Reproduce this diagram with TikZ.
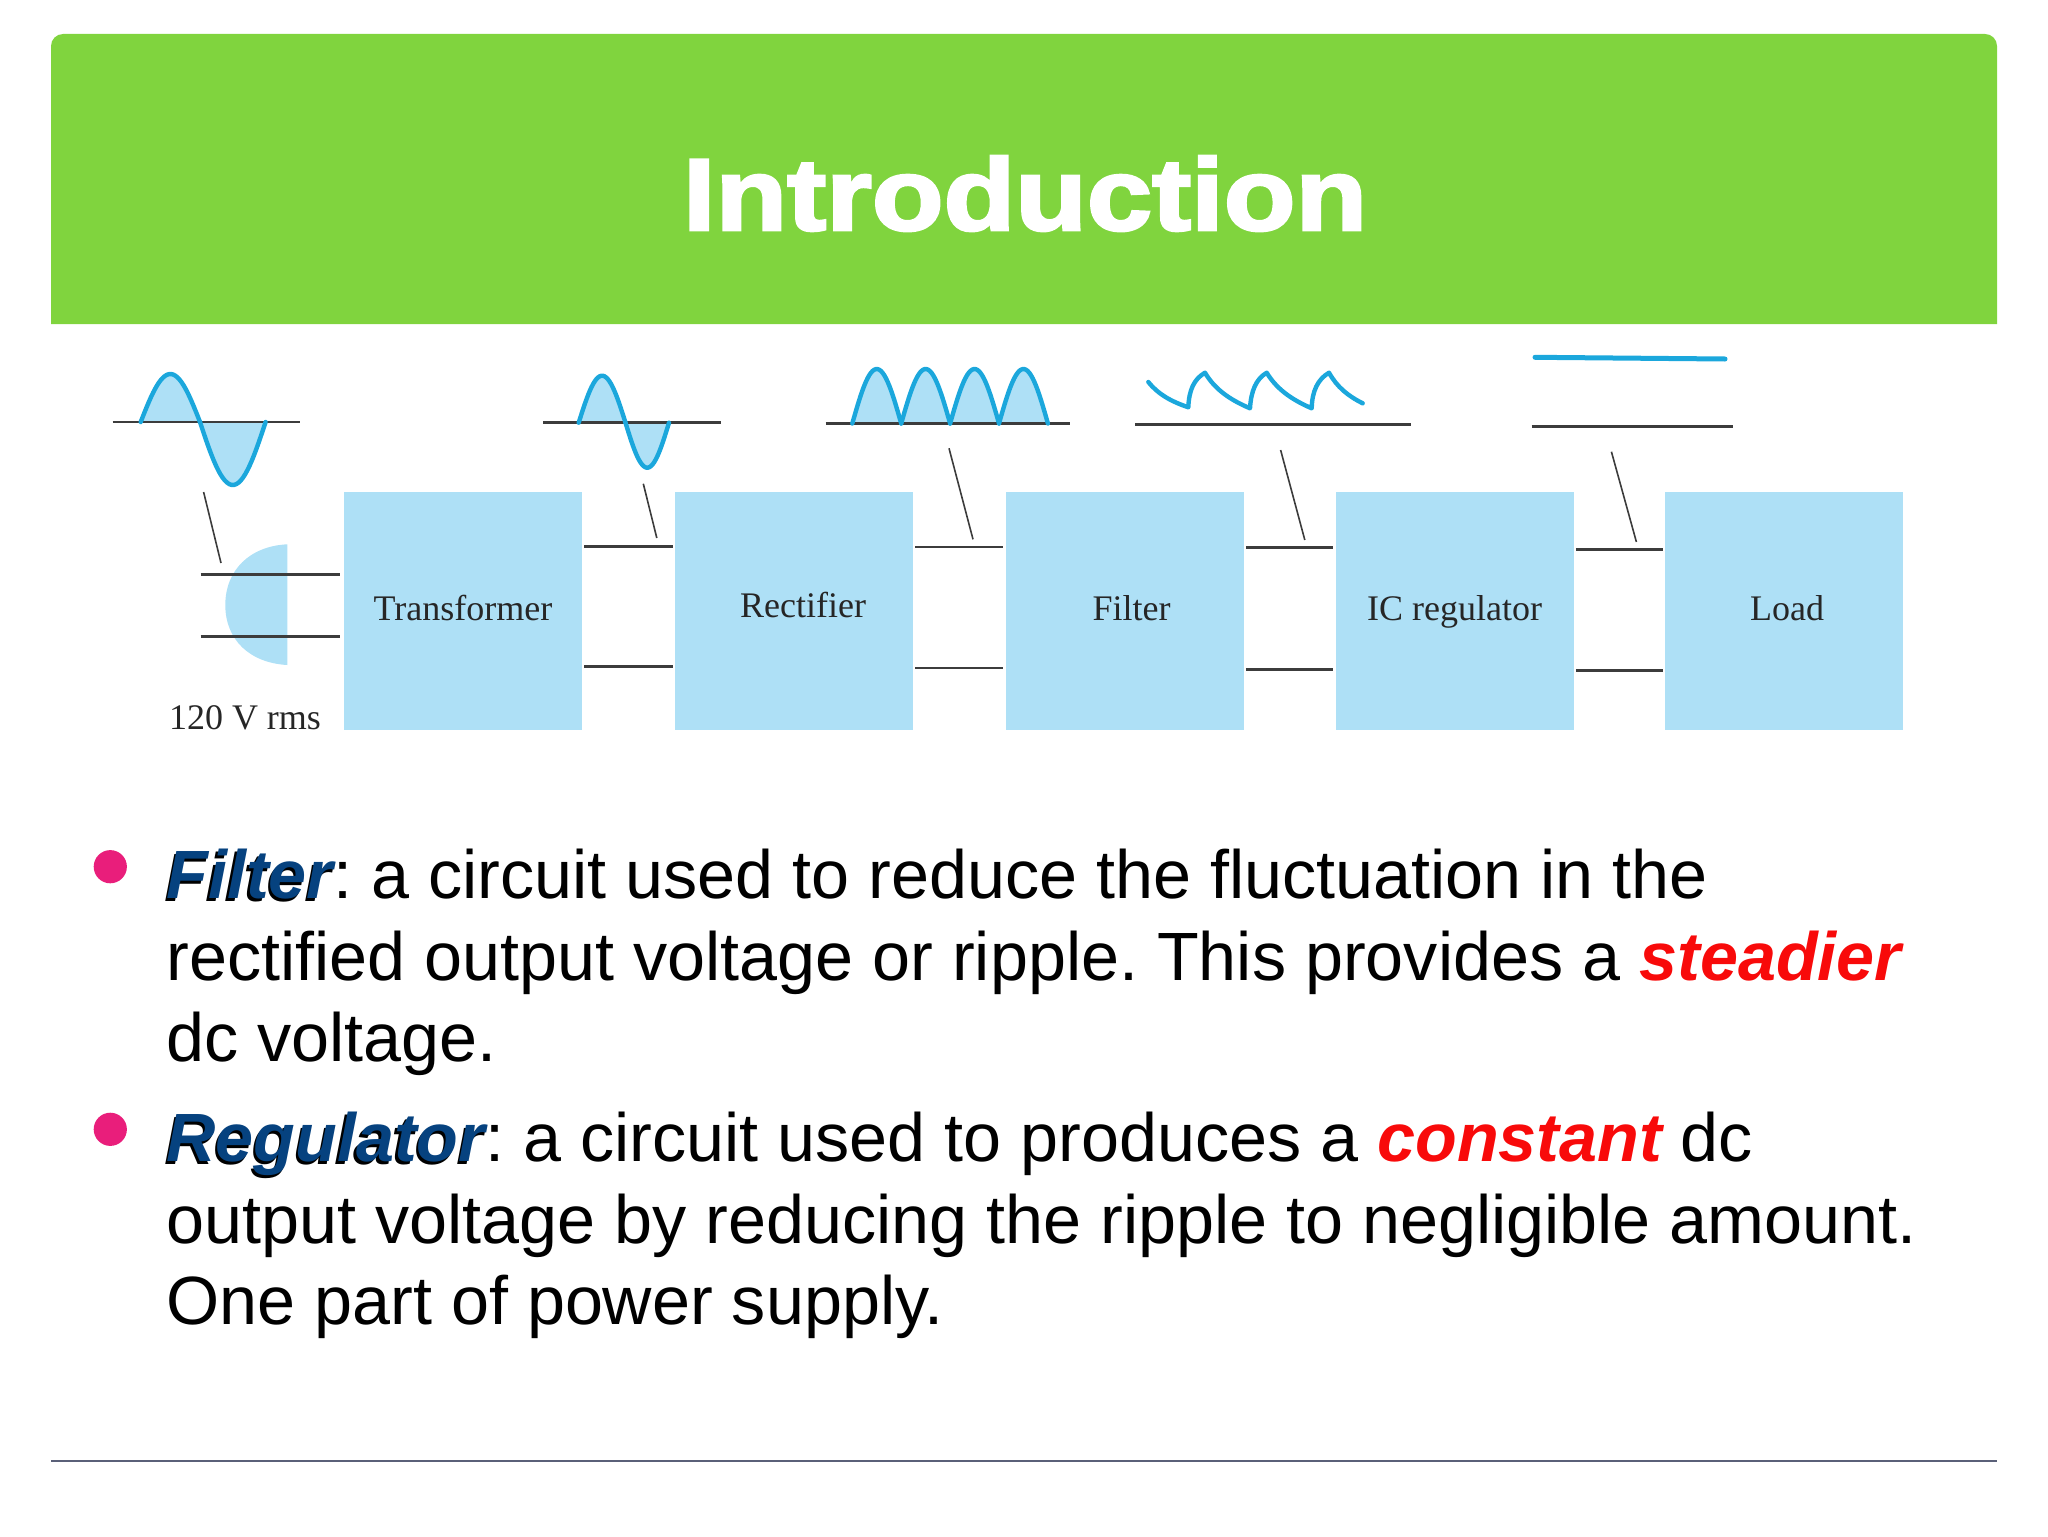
\documentclass[tikz,border=0pt]{standalone}
\usepackage{fontspec}
\setmainfont{Liberation Sans}
\newfontfamily\titlefont[FakeStretch=1.15,FakeBold=2.8]{Liberation Sans Bold}
\newfontfamily\boxfont{Liberation Serif}

\definecolor{headgreen}{HTML}{80D43E}
\definecolor{boxblue}{HTML}{AEE0F6}
\definecolor{waveblue}{HTML}{1BA7DC}
\definecolor{wordblue}{HTML}{06427F}
\definecolor{wordred}{HTML}{F80A0A}
\definecolor{dotpink}{HTML}{E91E7B}
\definecolor{rulegrey}{HTML}{5A6078}
\definecolor{wiregrey}{HTML}{3C3C3C}

\newcommand{\shadowword}[1]{\rlap{\kern-1.1pt\raisebox{-1.1pt}{\textcolor{black}{\bfseries\itshape #1}}}\textcolor{wordblue}{\bfseries\itshape #1}}
\newcommand{\redword}[1]{\textcolor{wordred}{\bfseries\itshape #1}}

\begin{document}
\frenchspacing
\begin{tikzpicture}[x=0.5pt, y=-0.5pt]
\tikzstyle{block} = [rectangle, fill=boxblue, minimum width=119pt, minimum height=119pt, inner sep=0pt, text height=12.2pt, text depth=2.5pt, font=\boxfont\fontsize{18}{20}\selectfont, text=black!85]
\tikzstyle{wire}  = [wiregrey, line width=1.3pt, shorten <=1pt, shorten >=1pt]
\tikzstyle{tick}  = [wiregrey, line width=0.8pt]
\tikzstyle{axis}  = [wiregrey, line width=1.3pt]
\tikzstyle{wave}  = [waveblue, line width=2.2pt, line join=round, line cap=round]
\tikzstyle{shade} = [fill=boxblue, draw=none]
\tikzstyle{para}  = [anchor=north west, inner sep=0pt, align=left, font=\fontsize{34.15}{40.6}\selectfont]
\tikzstyle{dot}   = [circle, fill=dotpink, minimum size=16.6pt, inner sep=0pt]

\useasboundingbox (0,0) rectangle (2048,1536);

% header
\fill [headgreen] (51,324) [rounded corners=6pt] -- (51,34) -- (1997,34) [sharp corners] -- (1997,324) -- cycle;
\node (title) [anchor=base, text=white, font=\titlefont\fontsize{51}{60}\selectfont] at (1025,230) {Introduction};

% blocks
\node (transformer) [block] at (463,611)    {Transformer};
\node (rectifier)   [block] at (794,611)    {\hspace{9pt}\raisebox{1.4pt}{Rectifier}};
\node (filter)      [block] at (1124.5,611) {\hspace{7pt}Filter};
\node (icreg)       [block] at (1454.5,611) {IC regulator};
\node (load)        [block] at (1784,611)   {\hspace{3pt}Load};
\node (mains)       [anchor=base, font=\boxfont\fontsize{18}{20}\selectfont, text=black!85] at (245,729) {120 V rms};

% source
\fill [boxblue] (287.3,544.3) .. controls (250,546) and (225.3,570) .. (225.3,605) .. controls (225.3,640) and (250,663) .. (287.3,665) -- cycle;
\coordinate (mains1) at (198.6,574.3);
\coordinate (mains2) at (198.6,636.7);

% wires
\draw [wire, shorten >=2pt] (mains1) -- (mains1 -| transformer.west);
\draw [wire, shorten >=2pt] (mains2) -- (mains2 -| transformer.west);
\draw [wire] ([yshift=-27.5pt]transformer.north east) -- ([yshift=-27.5pt]rectifier.north west);
\draw [wire] ([yshift=-87.5pt]transformer.north east) -- ([yshift=-87.5pt]rectifier.north west);
\draw [wire] ([yshift=-27.7pt]rectifier.north east)   -- ([yshift=-27.7pt]filter.north west);
\draw [wire] ([yshift=-88.2pt]rectifier.north east)   -- ([yshift=-88.2pt]filter.north west);
\draw [wire] ([yshift=-28pt]filter.north east)        -- ([yshift=-28pt]icreg.north west);
\draw [wire] ([yshift=-88.8pt]filter.north east)      -- ([yshift=-88.8pt]icreg.north west);
\draw [wire] ([yshift=-29pt]icreg.north east)         -- ([yshift=-29pt]load.north west);
\draw [wire] ([yshift=-89.5pt]icreg.north east)       -- ([yshift=-89.5pt]load.north west);

% leaders
\draw [tick] (203.6,492)   -- (221,563);
\draw [tick] (643.3,483.7) -- (656.8,538);
\draw [tick] (949,448.3)   -- (973,539.3);
\draw [tick] (1280.6,450)  -- (1304.8,540);
\draw [tick] (1611.4,451.7) -- (1636.4,542);

% sine, input
\fill [shade] plot [domain=0:180, samples=30] ({140.7+59.3*\x/180},{422-48*sin(\x)}) -- cycle;
\fill [shade] plot [domain=0:180, samples=30] ({200+65.6*\x/180},{422+63*sin(\x)}) -- cycle;
\draw [axis] (112.5,422) -- (300,422);
\draw [wave] plot [domain=0:180, samples=30] ({140.7+59.3*\x/180},{422-48*sin(\x)});
\draw [wave] plot [domain=0:180, samples=30] ({200+65.6*\x/180},{422+63*sin(\x)});

% sine, after transformer
\fill [shade] plot [domain=0:180, samples=30] ({578.7+46.8*\x/180},{422.7-47*sin(\x)}) -- cycle;
\fill [shade] plot [domain=0:180, samples=30] ({625.5+43.5*\x/180},{422.7+45*sin(\x)}) -- cycle;
\draw [axis] (543,422.7) -- (721.4,422.7);
\draw [wave] plot [domain=0:180, samples=30] ({578.7+46.8*\x/180},{422.7-47*sin(\x)});
\draw [wave] plot [domain=0:180, samples=30] ({625.5+43.5*\x/180},{422.7+45*sin(\x)});

% rectified
\foreach \s in {852.3,901.2,950.1,999} {
  \fill [shade] plot [domain=0:180, samples=30] ({\s+48.9*\x/180},{423.5-54.5*sin(\x)}) -- cycle;
}
\draw [axis] (825.7,423.5) -- (1070,423.5);
\foreach \s in {852.3,901.2,950.1,999} {
  \draw [wave] plot [domain=0:180, samples=30] ({\s+48.9*\x/180},{423.5-54.5*sin(\x)});
}

% ripple
\draw [axis] (1135,424.3) -- (1410.7,424.3);
\draw [wave] (1148.3,382) .. controls (1158,394) and (1170,401) .. (1188.3,407.3)
  .. controls (1189,390) and (1194,379) .. (1205,372.7)
  .. controls (1214,388) and (1228,399) .. (1250,408.3)
  .. controls (1251,391) and (1256,379) .. (1266.7,372.7)
  .. controls (1276,388) and (1290,399) .. (1311.7,408.3)
  .. controls (1312,391) and (1318,379) .. (1329,372.7)
  .. controls (1337,387) and (1348,396) .. (1362.7,403.3);

% regulated
\draw [axis] (1531.5,426.7) -- (1732.5,426.7);
\draw [wave, line width=2.5pt] (1535,357.3) -- (1725,359);

% text
\node (dot1) [dot] at (110.3,866.7)  {};
\node (dot2) [dot] at (110.3,1129.3) {};
\node (para1) [para] at (166,849) {\shadowword{Filter}: a circuit used to reduce the fluctuation in the\\
rectified output voltage or ripple. This provides a \redword{steadier}\\
dc voltage.};
\node (para2) [para] at (166,1112) {\shadowword{Regulator}: a circuit used to produces a \redword{constant} dc\\
output voltage by reducing the ripple to negligible amount.\\
One part of power supply.};

% footer
\coordinate (rule1) at (51,1461);
\coordinate (rule2) at (1997,1461);
\draw [rulegrey, line width=1.1pt] (rule1) -- (rule2);
\end{tikzpicture}
\end{document}
